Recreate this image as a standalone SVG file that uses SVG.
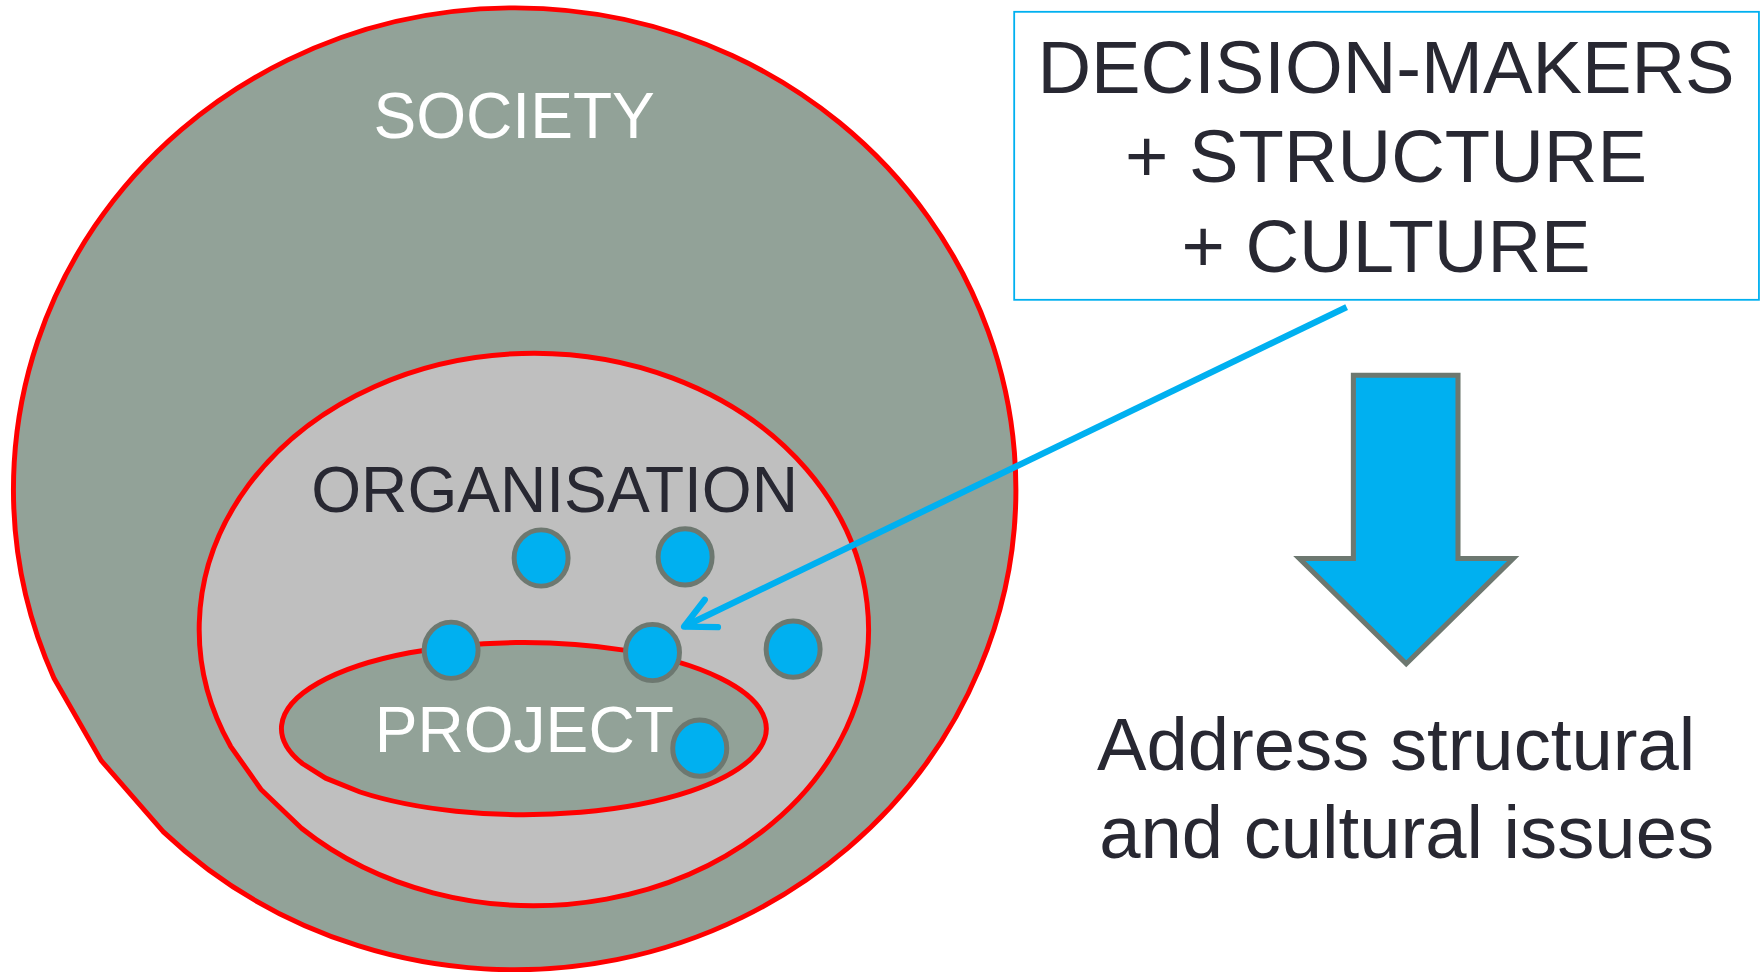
<svg xmlns="http://www.w3.org/2000/svg" width="1764" height="972" viewBox="0 0 1764 972">
<style>
.zone{stroke:#FF0000;stroke-width:4.4;stroke-linejoin:miter}
.dot{fill:#00B0F0;stroke:#6D7870;stroke-width:4.4}
.lbl{font-family:"Liberation Sans",Arial,sans-serif;font-size:57px;text-anchor:middle}
.big{font-family:"Liberation Sans",Arial,sans-serif;font-size:66px;fill:#282832}
</style>
<defs>
<marker id="chev" markerUnits="userSpaceOnUse" markerWidth="40" markerHeight="40" viewBox="-34 -20 40 40" refX="0" refY="0" orient="auto" overflow="visible">
<path d="M-27,-13.5 L0,0 L-27,13.5" fill="none" stroke="#00B0F0" stroke-width="5.6" stroke-linecap="round" stroke-linejoin="round"/>
</marker>
</defs>
<rect width="1764" height="972" fill="#FFFFFF"/>
<g transform="scale(1.125)">
<g id="society">
<path class="zone" fill="#92A298" d="M48,602.9 L90,676.1 L145,739.2 A445.5 427.5 0 1 0 48,602.9 Z"/>
<text class="lbl" x="457" y="123" fill="#FFFFFF">SOCIETY</text>
</g>
<g id="organisation">
<path class="zone" fill="#BFBFBF" d="M205,663.4 L232,701.7 L268,736.2 A297.5 245.5 0 1 0 205,663.4 Z"/>
<text class="lbl" x="493" y="455" fill="#282832">ORGANISATION</text>
</g>
<g id="project">
<path class="zone" fill="#92A298" d="M269,678.9 L289.5,691.7 L320,704 A215.5 76.5 0 1 0 269,678.9 Z"/>
<text class="lbl" x="466" y="668" fill="#FFFFFF">PROJECT</text>
</g>
<g id="people">
<ellipse class="dot" cx="481" cy="496" rx="24" ry="25"/>
<ellipse class="dot" cx="609" cy="495" rx="24" ry="25"/>
<ellipse class="dot" cx="401" cy="578" rx="24" ry="25"/>
<ellipse class="dot" cx="580" cy="580" rx="24" ry="25"/>
<ellipse class="dot" cx="705" cy="577" rx="24" ry="25"/>
<ellipse class="dot" cx="622" cy="665" rx="24" ry="25"/>
</g>
<g id="decision-makers">
<rect x="901.5" y="10.5" width="662" height="256" fill="#FFFFFF" stroke="#00B0F0" stroke-width="1.6"/>
<text class="big" x="1232" y="83" text-anchor="middle">DECISION-MAKERS</text>
<text class="big" x="1232" y="162" text-anchor="middle">+ STRUCTURE</text>
<text class="big" x="1232" y="242" text-anchor="middle">+ CULTURE</text>
</g>
<g id="block-arrow">
<path d="M1203,333.5 L1296,333.5 L1296,496.5 L1345,496.5 L1250,590 L1155,496.5 L1203,496.5 Z" fill="#00B0F0" stroke="#6D7870" stroke-width="4.5"/>
</g>
<g id="outcome">
<text class="big" x="975" y="684">Address structural</text>
<text class="big" x="977" y="763">and cultural issues</text>
</g>
<g id="connectors">
<line x1="1197" y1="273" x2="608" y2="557" stroke="#00B0F0" stroke-width="5.6" marker-end="url(#chev)"/>
</g>
</g>
</svg>
